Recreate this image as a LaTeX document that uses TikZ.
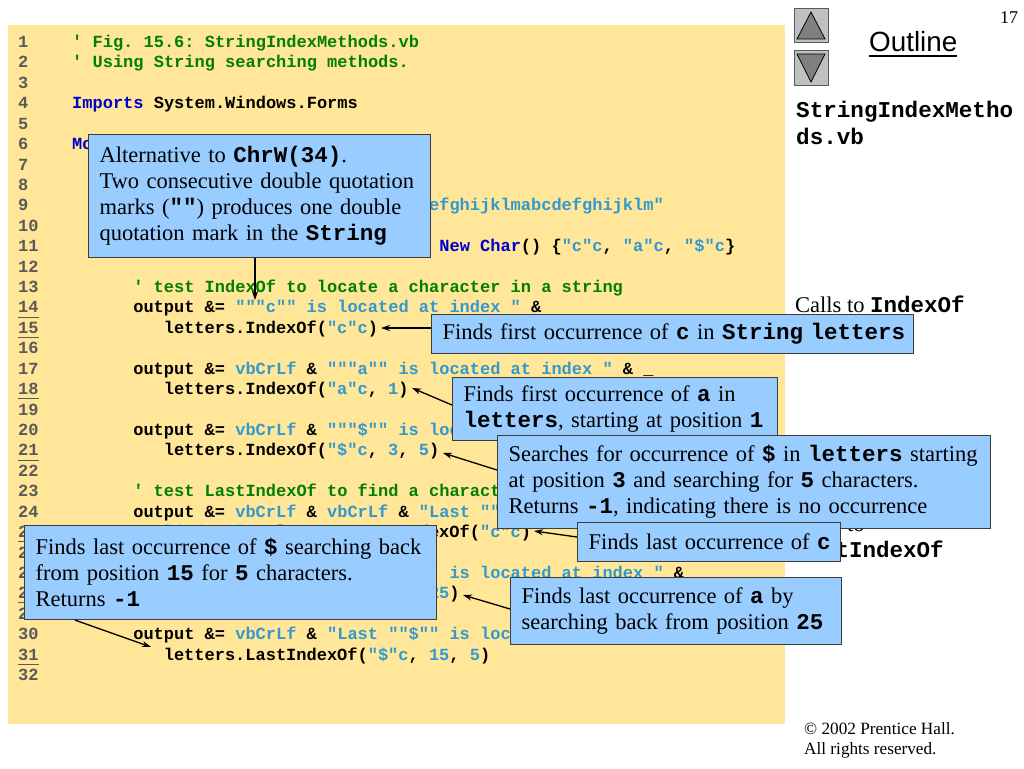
\documentclass[tikz,border=0pt]{standalone}
\usepackage{fontspec}
\setmainfont{Liberation Serif}
\setsansfont{Liberation Sans}
\setmonofont{Liberation Mono}
\usetikzlibrary{arrows.meta}
\definecolor{codebg}{RGB}{255,230,153}
\definecolor{callbg}{RGB}{153,204,255}
\definecolor{calledge}{RGB}{60,60,60}
\definecolor{kwblue}{RGB}{0,0,204}
\definecolor{strblue}{RGB}{51,153,204}
\definecolor{cmtgreen}{RGB}{0,128,0}
\definecolor{lnum}{RGB}{90,90,90}
\definecolor{btnfill}{RGB}{192,192,192}
\definecolor{btnedge}{RGB}{90,90,90}
\definecolor{trifill}{RGB}{128,128,128}
\newcommand\cK[1]{\textcolor{kwblue}{#1}}
\newcommand\cS[1]{\textcolor{strblue}{#1}}
\newcommand\cC[1]{\textcolor{cmtgreen}{#1}}
\newcommand\mo[1]{{\ttfamily\bfseries #1}}
\newcommand\oneline[1]{\mbox{#1}}
\newcommand\ly[1]{47.5+20.42*(#1-1)}
\begin{document}
\begin{tikzpicture}[x=1pt,y=-1pt,
  codeline/.style={anchor=base west, inner sep=0pt, font=\ttfamily\bfseries\fontsize{17}{20}\selectfont},
  lineno/.style={anchor=base west, inner sep=0pt, text=lnum, font=\ttfamily\bfseries\fontsize{17}{20}\selectfont},
  ul/.style={draw=lnum, line width=0.8pt},
  callout/.style={draw=calledge, fill=callbg, line width=1.1pt, anchor=north west, inner xsep=11pt, inner ysep=0pt, align=left, font=\fontsize{22.5}{26}\selectfont},
  sidetext/.style={anchor=base west, inner sep=0pt, font=\fontsize{22.5}{26}\selectfont},
  arr/.style={-{Stealth[length=9pt,width=6pt]}, line width=1.3pt, black},
  btn/.style={fill=btnfill, draw=btnedge, line width=0.8pt},
  tri/.style={fill=trifill, draw=black, line width=0.8pt}]
\useasboundingbox (0,0) rectangle (1024,768);
\fill[white] (0,0) rectangle (1024,768);
% code background
\fill[codebg] (8,25) rectangle (785,724);
% line numbers
\foreach \n in {1,...,32} {\node[lineno] (n\n) at (18,{\ly{\n}}) {\n};}
\foreach \n in {14,15,18,21,25,28,31} {\draw[ul] ([yshift=-4pt]n\n.base west) -- ([yshift=-4pt]n\n.base east);}
% code
\node[codeline] (c1) at (72,{\ly{1}}) {\cC{' Fig. 15.6: StringIndexMethods.vb}};
\node[codeline] (c2) at (72,{\ly{2}}) {\cC{' Using String searching methods.}};
\node[codeline] (c4) at (72,{\ly{4}}) {\cK{Imports} System.Windows.Forms};
\node[codeline] (c6) at (72,{\ly{6}}) {\cK{Module} modIndexMethods};
\node[codeline] (c8) at (102.5,{\ly{8}}) {\cK{Sub} Main()};
\node[codeline] (c9) at (133.1,{\ly{9}}) {\cK{Dim} letters \cK{As} \cK{String} = \cS{"abcdefghijklmabcdefghijklm"}};
\node[codeline] (c10) at (133.1,{\ly{10}}) {\cK{Dim} output \cK{As} \cK{String}};
\node[codeline] (c11) at (133.1,{\ly{11}}) {\cK{Dim} searchLetters \cK{As} \cK{Char}() = \cK{New} \cK{Char}() \{\cS{"c"c}, \cS{"a"c}, \cS{"\$"c}\}};
\node[codeline] (c13) at (133.1,{\ly{13}}) {\cC{' test IndexOf to locate a character in a string}};
\node[codeline] (c14) at (133.1,{\ly{14}}) {output \&= \cS{"""c"" is located at index "} \&};
\node[codeline] (c15) at (163.6,{\ly{15}}) {letters.IndexOf(\cS{"c"c})};
\node[codeline] (c17) at (133.1,{\ly{17}}) {output \&= \cS{vbCrLf} \& \cS{"""a"" is located at index "} \& \_};
\node[codeline] (c18) at (163.6,{\ly{18}}) {letters.IndexOf(\cS{"a"c}, \cS{1})};
\node[codeline] (c20) at (133.1,{\ly{20}}) {output \&= \cS{vbCrLf} \& \cS{"""\$"" is located at index "} \& \_};
\node[codeline] (c21) at (163.6,{\ly{21}}) {letters.IndexOf(\cS{"\$"c}, \cS{3}, \cS{5})};
\node[codeline] (c23) at (133.1,{\ly{23}}) {\cC{' test LastIndexOf to find a character in a string}};
\node[codeline] (c24) at (133.1,{\ly{24}}) {output \&= \cS{vbCrLf} \& \cS{vbCrLf} \& \cS{"Last ""c"" is located at "} \& \_};
\node[codeline] (c25) at (163.6,{\ly{25}}) {\cS{"index "} \& letters.LastIndexOf(\cS{"c"c})};
\node[codeline] (c27) at (133.1,{\ly{27}}) {output \&= \cS{vbCrLf} \& \cS{"Last ""a"" is located at index "} \&};
\node[codeline] (c28) at (163.6,{\ly{28}}) {letters.LastIndexOf(\cS{"a"c}, \cS{25})};
\node[codeline] (c30) at (133.1,{\ly{30}}) {output \&= \cS{vbCrLf} \& \cS{"Last ""\$"" is located at index "} \& \_};
\node[codeline] (c31) at (163.6,{\ly{31}}) {letters.LastIndexOf(\cS{"\$"c}, \cS{15}, \cS{5})};
% right column
\node[anchor=base west, inner sep=0pt, font=\fontsize{18}{20}\selectfont] (pg) at (1000,24) {17};
\node[anchor=base west, inner sep=0pt, font=\sffamily\fontsize{27.8}{30}\selectfont] (outl) at (869,52) {Outline};
\draw[line width=1.2pt] ([yshift=-4pt]outl.base west) -- ([yshift=-4pt]outl.base east);
\draw[btn] (794,8) rectangle (828,42);
\draw[tri] (811,12) -- (797,39) -- (825,39) -- cycle;
\draw[btn] (794,50) rectangle (828,85);
\draw[tri] (797,54) -- (825,54) -- (811,82) -- cycle;
\node[anchor=base west, inner sep=0pt, font=\ttfamily\bfseries\fontsize{22.6}{26}\selectfont] (fn1) at (796,117) {StringIndexMetho};
\node[anchor=base west, inner sep=0pt, font=\ttfamily\bfseries\fontsize{22.6}{26}\selectfont] (fn2) at (796,144) {ds.vb};
\node[sidetext] (calls1) at (795,312) {Calls to \mo{IndexOf}};
\node[sidetext] (calls2a) at (795,531) {Calls to};
\node[sidetext] (calls2b) at (795,557) {\mo{LastIndexOf}};
\node[anchor=base west, inner sep=0pt, font=\fontsize{17.2}{20}\selectfont] (copy1) at (804,734) {© 2002 Prentice Hall.};
\node[anchor=base west, inner sep=0pt, font=\fontsize{17.2}{20}\selectfont] (copy2) at (804,754) {All rights reserved.};
% arrow targets
\coordinate (t1) at (255,300);
\coordinate (t2) at (381,328);
\coordinate (t3) at (412,388);
\coordinate (t4) at (443,453);
\coordinate (t5) at (534,531);
\coordinate (t6) at (151,647);
\coordinate (t7) at (463,595);
% callouts
\node[callout, text width=320pt, minimum height=123pt] (b1) at (88,134)
  {\oneline{Alternative to \mo{ChrW(34)}.}\\\oneline{Two consecutive double quotation}\\\oneline{marks (\mo{""}) produces one double}\\\oneline{quotation mark in the \mo{String}}};
\node[callout, text width=460pt, minimum height=39pt] (b2) at (431,314)
  {\oneline{Finds first occurrence of \mo{c} in \mo{String letters}}};
\node[callout, text width=303pt, minimum height=63pt] (b3) at (452,377)
  {\oneline{Finds first occurrence of \mo{a} in}\\\oneline{\mo{letters}, starting at position \mo{1}}};
\node[callout, text width=471pt, minimum height=93pt] (b4) at (497,435)
  {\oneline{Searches for occurrence of \mo{\$} in \mo{letters} starting}\\\oneline{at position \mo{3} and searching for \mo{5} characters.}\\\oneline{Returns \mo{-1}, indicating there is no occurrence}};
\node[callout, text width=241pt, minimum height=39pt] (b5) at (577,522)
  {\oneline{Finds last occurrence of \mo{c}}};
\node[callout, text width=390pt, minimum height=94pt] (b6) at (24,525)
  {\oneline{Finds last occurrence of \mo{\$} searching back}\\\oneline{from position \mo{15} for \mo{5} characters.}\\\oneline{Returns \mo{-1}}};
\node[callout, text width=309pt, minimum height=67pt] (b7) at (510,577)
  {\oneline{Finds last occurrence of \mo{a} by}\\\oneline{searching back from position \mo{25}}};
% arrows
\draw[arr] (b1.south -| t1) -- (t1);
\draw[arr] (b2.west |- t2) -- (t2);
\draw[arr] ([yshift=-28pt]b3.north west) -- (t3);
\draw[arr] ([yshift=-35pt]b4.north west) -- (t4);
\draw[arr] ([yshift=-15pt]b5.north west) -- (t5);
\draw[arr] ([xshift=51pt]b6.south west) -- (t6);
\draw[arr] ([yshift=-32pt]b7.north west) -- (t7);
\end{tikzpicture}
\end{document}
